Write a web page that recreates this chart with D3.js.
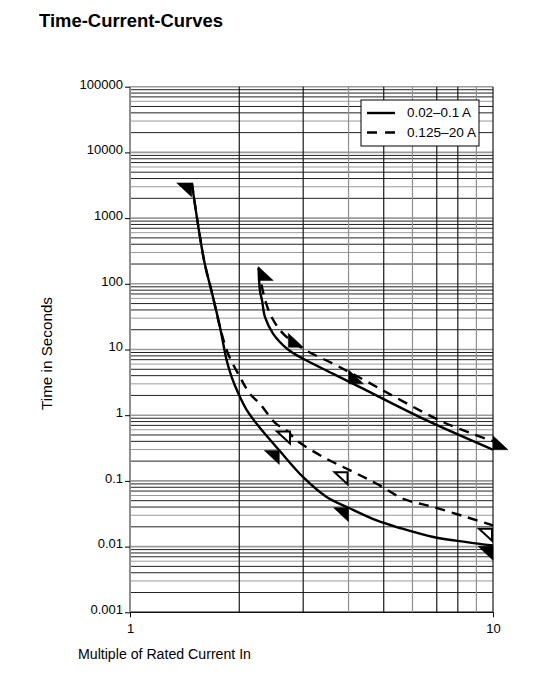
<!DOCTYPE html>
<html><head><meta charset="utf-8">
<script src="https://cdn.jsdelivr.net/npm/d3@7"></script>
<style>
body{margin:0;background:#fff}
svg{display:block}
text{font-family:"Liberation Sans",Arial,Helvetica,sans-serif;fill:#000}
</style>
</head><body><svg id="c" width="542" height="675"></svg>
<script>
// ---------- data ----------
const title = "Time-Current-Curves";
const xAxisTitle = "Multiple of Rated Current In";
const yAxisTitle = "Time in Seconds";
const xTicks = [1, 10];
const xTickLabels = ["1", "10"];
const yTicks = [100000, 10000, 1000, 100, 10, 1, 0.1, 0.01, 0.001];
const yTickLabels = ["100000", "10000", "1000", "100", "10", "1", "0.1", "0.01", "0.001"];
const seriesNames = ["0.02\u20130.1 A", "0.125\u201320 A"];

// 0.02–0.1 A (solid) — lower-bound curve (fast) and upper-bound curve
const lowSolidX = [1.48, 1.60, 1.685, 1.77, 1.847, 1.906, 1.99, 2.10, 2.27, 2.58, 3.0, 3.48, 4.0, 4.78, 5.54, 6.85, 8.46, 10];
const lowSolidY = [3430, 226, 70, 21.8, 6.8, 3.8, 2.12, 1.18, 0.66, 0.29, 0.114, 0.057, 0.039, 0.025, 0.0192, 0.014, 0.0117, 0.0104];
const upSolidX = [2.262, 2.28, 2.311, 2.355, 2.48, 2.73, 3.0, 3.63, 4.30, 6.57, 10];
const upSolidY = [175, 78.9, 55.6, 31, 17.3, 9.9, 7.22, 4.26, 2.67, 0.832, 0.298];

// 0.125–20 A (dashed)
const lowDashX = [1.48, 1.60, 1.685, 1.77, 1.862, 2.01, 2.14, 2.28, 2.52, 2.70, 2.88, 3.41, 4.04, 4.78, 5.66, 6.85, 8.46, 10];
const lowDashY = [3430, 226, 70, 21.8, 8.7, 3.79, 2.12, 1.49, 0.75, 0.586, 0.413, 0.23, 0.1445, 0.0906, 0.0535, 0.040, 0.0281, 0.021];
const upDashX = [2.262, 2.30, 2.36, 2.457, 2.645, 3.0, 3.63, 4.30, 7.3, 10];
const upDashY = [175, 100, 55, 31, 17.3, 10.26, 6.07, 3.71, 0.783, 0.403];

// triangle markers: right angle at top-right ("TR") or bottom-left ("BL")
const markX = [1.479, 2.578, 2.776, 4.0, 4.0, 10, 10, 2.256, 2.73, 4.0, 10];
const markY = [3430, 0.291, 0.586, 0.14, 0.039, 0.0194, 0.0101, 112, 10.8, 3.0, 0.298];
const markType = ["TR", "TR", "TR", "TR", "TR", "TR", "TR", "BL", "BL", "BL", "BL"];
const markFilled = [true, true, false, false, true, false, true, true, true, true, true];

// ---------- chart ----------
const svg = d3.select("#c");
const x = d3.scaleLog().domain([1, 10]).range([130, 493]);
const y = d3.scaleLog().domain([0.001, 100000]).range([612.3, 86.7]);

// title
svg.append("text").attr("x", 39).attr("y", 27)
  .attr("font-size", 19).attr("font-weight", "bold")
  .attr("textLength", 184).attr("lengthAdjust", "spacingAndGlyphs")
  .text(title);

// grid
const grid = svg.append("g");
const hLines = [];
for (let k = -3; k <= 4; k++) {
  for (let m = 1; m <= 9; m++) hLines.push({v: m * Math.pow(10, k), m: m});
}
hLines.push({v: 100000, m: 1});
grid.selectAll("line.h").data(hLines).join("line")
  .attr("x1", x(1)).attr("x2", x(10))
  .attr("y1", d => y(d.v)).attr("y2", d => y(d.v))
  .attr("stroke", d => d.v === 0.001 ? "#111" : (d.m === 1 || d.m === 6 || d.m === 3) ? "#9a9a9a" : "#222")
  .attr("stroke-width", d => d.m === 1 ? 1.6 : 1);

const vLines = d3.range(1, 11);
grid.selectAll("line.v").data(vLines).join("line")
  .attr("x1", d => x(d)).attr("x2", d => x(d))
  .attr("y1", y(100000)).attr("y2", y(0.001))
  .attr("stroke", d => [1, 4, 6, 9].includes(d) ? "#8f8f8f" : "#1a1a1a")
  .attr("stroke-width", d => d === 1 ? 2 : 1.2);

// axes
const yAxis = svg.append("g").attr("transform", `translate(${x(1)},0)`)
  .call(d3.axisLeft(y).tickValues(yTicks).tickFormat((d, i) => yTickLabels[i]).tickSize(5).tickPadding(2));
yAxis.select(".domain").remove();
yAxis.selectAll("text").attr("font-size", 13).attr("dy", "0.1em").attr("font-family", "Liberation Sans, Arial, sans-serif");
yAxis.selectAll("line").attr("stroke", "#000");

const xAxis = svg.append("g").attr("transform", `translate(0,${y(0.001)})`)
  .call(d3.axisBottom(x).tickValues(xTicks).tickFormat((d, i) => xTickLabels[i]).tickSize(5).tickPadding(6));
xAxis.select(".domain").remove();
xAxis.selectAll("text").attr("font-size", 13).attr("font-family", "Liberation Sans, Arial, sans-serif");
xAxis.selectAll("line").attr("stroke", "#000");

// axis titles
svg.append("text").attr("x", 78).attr("y", 659)
  .attr("font-size", 15.5)
  .attr("font-family", "Liberation Sans Narrow, Liberation Sans, Arial, sans-serif")
  .attr("textLength", 173).attr("lengthAdjust", "spacingAndGlyphs")
  .text(xAxisTitle);
svg.append("text").attr("transform", "translate(52,410) rotate(-90)")
  .attr("font-size", 15.5)
  .attr("font-family", "Liberation Sans Narrow, Liberation Sans, Arial, sans-serif")
  .attr("textLength", 113).attr("lengthAdjust", "spacingAndGlyphs")
  .text(yAxisTitle);

// curves
const line = d3.line().x(d => x(d[0])).y(d => y(d[1])).curve(d3.curveCatmullRom.alpha(0.5));
const curves = [
  {xs: lowDashX, ys: lowDashY, dash: "10,7"},
  {xs: upDashX, ys: upDashY, dash: "10,7"},
  {xs: lowSolidX, ys: lowSolidY, dash: null},
  {xs: upSolidX, ys: upSolidY, dash: null}
];
svg.append("g").selectAll("path").data(curves).join("path")
  .attr("d", c => line(c.xs.map((v, i) => [v, c.ys[i]])))
  .attr("fill", "none").attr("stroke", "#000").attr("stroke-width", 2.4)
  .attr("stroke-dasharray", c => c.dash);

// triangle markers
const TW = 15, TH = 14;
const marks = markX.map((v, i) => ({x: v, y: markY[i], t: markType[i], f: markFilled[i]}));
svg.append("g").selectAll("path").data(marks).join("path")
  .attr("d", m => {
    const cx = x(m.x), cy = y(m.y);
    if (m.t === "TR") {
      if (m.f) return `M${cx - TW},${cy}L${cx},${cy}L${cx},${cy + TH}Z`;
      return `M${cx - TW + 1},${cy + 1}L${cx - 1},${cy + 1}L${cx - 1},${cy + TH - 1}Z`;
    }
    return `M${cx},${cy - TH}L${cx},${cy}L${cx + TW},${cy}Z`;
  })
  .attr("fill", m => m.f ? "#000" : "#fff")
  .attr("stroke", "#000").attr("stroke-width", m => m.f ? 0.5 : 2)
  .attr("stroke-linejoin", "miter");

// legend
const lg = svg.append("g");
lg.append("rect").attr("x", 361).attr("y", 100).attr("width", 118).attr("height", 46)
  .attr("fill", "#fff").attr("stroke", "#000").attr("stroke-width", 1);
const legendDash = [null, "10,8"];
lg.selectAll("line.l").data(seriesNames).join("line")
  .attr("x1", 367).attr("x2", 395)
  .attr("y1", (d, i) => 113 + i * 19.5).attr("y2", (d, i) => 113 + i * 19.5)
  .attr("stroke", "#000").attr("stroke-width", 2.4)
  .attr("stroke-dasharray", (d, i) => legendDash[i]);
lg.selectAll("text").data(seriesNames).join("text")
  .attr("x", 407).attr("y", (d, i) => 117 + i * 19.5)
  .attr("font-size", 13)
  .attr("textLength", (d, i) => i === 0 ? 64 : 69).attr("lengthAdjust", "spacingAndGlyphs")
  .text(d => d);
</script>
</body></html>
